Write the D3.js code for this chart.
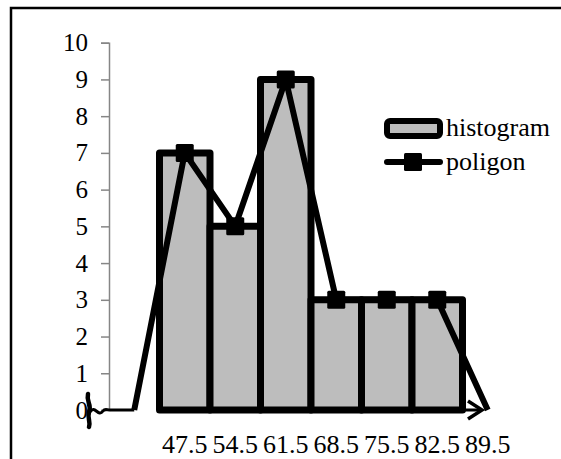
<!DOCTYPE html>
<html>
<head>
<meta charset="utf-8">
<style>
    body { margin: 0; font-family: "Liberation Serif", serif; }
    svg text { font-family: "Liberation Serif", serif; }
    #warm { position: absolute; left: 0; top: 0; opacity: 0; font-size: 26px; }
</style>
</head>
<body>
<div id="warm">0123456789.histogrampoligon</div>
<script src="https://d3js.org/d3.v7.min.js"></script>
<script>
    // chart data
    var categories = ["40.5", "47.5", "54.5", "61.5", "68.5", "75.5", "82.5", "89.5"];
    var tickLabels = ["", "47.5", "54.5", "61.5", "68.5", "75.5", "82.5", "89.5"];
    var histogram = [null, 7, 5, 9, 3, 3, 3, null];
    var poligon = [0, 7, 5, 9, 3, 3, 3, 0];
    var yTicks = [0, 1, 2, 3, 4, 5, 6, 7, 8, 9, 10];

    var W = 561, H = 459;
    var font = "Liberation Serif";
    var barFill = "#bdbdbd";

    function draw() {
    d3.select("#chart").remove();
    var svg = d3.select("body").append("svg")
        .attr("id", "chart")
        .attr("width", W)
        .attr("height", H)
        .style("background", "white");

    // outer border
    svg.append("rect")
        .attr("x", 11).attr("y", 8)
        .attr("width", 560).attr("height", 470)
        .attr("fill", "none")
        .attr("stroke", "black")
        .attr("stroke-width", 2.5);

    var x = d3.scaleBand().domain(categories).range([109, 513]).padding(0);
    var y = d3.scaleLinear().domain([0, 10]).range([410, 42.7]);
    var cx = function(c) { return x(c) + x.bandwidth() / 2; };

    // y axis
    var yAxis = svg.append("g")
        .attr("transform", "translate(109,0)")
        .call(d3.axisLeft(y).tickValues(yTicks).tickSize(8).tickPadding(13))
        .attr("font-family", font)
        .attr("font-size", 25);
    yAxis.select(".domain").attr("stroke", "#868686").attr("stroke-width", 1.5);
    yAxis.selectAll(".tick line").attr("stroke", "#868686").attr("stroke-width", 1.5);
    yAxis.selectAll("text").attr("fill", "black");

    // x labels
    svg.append("g")
        .attr("font-family", font)
        .attr("font-size", 26)
        .selectAll("text")
        .data(categories)
        .enter().append("text")
        .attr("x", function(d) { return cx(d); })
        .attr("y", 453)
        .attr("text-anchor", "middle")
        .text(function(d, i) { return tickLabels[i]; });

    // x axis arrow
    svg.append("line")
        .attr("x1", x(categories[1])).attr("y1", y(0))
        .attr("x2", 482).attr("y2", y(0))
        .attr("stroke", "black").attr("stroke-width", 3);
    svg.append("polyline")
        .attr("points", [[468, y(0) - 9], [482, y(0)], [468, y(0) + 9]].join(" "))
        .attr("fill", "none").attr("stroke", "black").attr("stroke-width", 3.5);

    // axis break symbol
    svg.append("path")
        .attr("d", "M88,394 C86,402 92,404 89,412 C87,418 91,422 89,427")
        .attr("fill", "none").attr("stroke", "black").attr("stroke-width", 4.5)
        .attr("stroke-linecap", "round");
    svg.append("path")
        .attr("d", "M90,412 C95,404 98,418 103,411 C105,408 107,410 110,410 L" + cx(categories[0]) + "," + y(0))
        .attr("fill", "none").attr("stroke", "black").attr("stroke-width", 3);

    // histogram bars
    var barData = categories.map(function(c, i) { return {c: c, v: histogram[i]}; })
        .filter(function(d) { return d.v !== null; });
    svg.append("g").selectAll("rect")
        .data(barData)
        .enter().append("rect")
        .attr("x", function(d) { return x(d.c); })
        .attr("y", function(d) { return y(d.v); })
        .attr("width", x.bandwidth())
        .attr("height", function(d) { return y(0) - y(d.v); })
        .attr("fill", barFill)
        .attr("stroke", "black")
        .attr("stroke-width", 7)
        .attr("stroke-linejoin", "round");

    // frequency polygon
    var polyData = categories.map(function(c, i) { return {c: c, v: poligon[i]}; });
    var line = d3.line()
        .x(function(d) { return cx(d.c); })
        .y(function(d) { return y(d.v); });
    svg.append("path")
        .attr("d", line(polyData))
        .attr("fill", "none")
        .attr("stroke", "black")
        .attr("stroke-width", 6)
        .attr("stroke-linejoin", "round");

    svg.append("g").selectAll("rect")
        .data(polyData.filter(function(d, i) { return i > 0 && i < polyData.length - 1; }))
        .enter().append("rect")
        .attr("x", function(d) { return cx(d.c) - 9; })
        .attr("y", function(d) { return y(d.v) - 9; })
        .attr("width", 18).attr("height", 18)
        .attr("rx", 1.5)
        .attr("fill", "black");

    // legend
    var legend = svg.append("g")
        .attr("font-family", font)
        .attr("font-size", 26);
    legend.append("rect")
        .attr("x", 387).attr("y", 121)
        .attr("width", 53).attr("height", 15)
        .attr("rx", 3)
        .attr("fill", barFill)
        .attr("stroke", "black").attr("stroke-width", 6);
    legend.append("text")
        .attr("x", 446).attr("y", 136)
        .text("histogram");
    legend.append("line")
        .attr("x1", 387).attr("x2", 440)
        .attr("y1", 162).attr("y2", 162)
        .attr("stroke", "black").attr("stroke-width", 6)
        .attr("stroke-linecap", "round");
    legend.append("rect")
        .attr("x", 404).attr("y", 153)
        .attr("width", 18).attr("height", 18)
        .attr("rx", 1.5)
        .attr("fill", "black");
    legend.append("text")
        .attr("x", 446).attr("y", 170)
        .text("poligon");
    }

    draw();
</script>
</body>
</html>
